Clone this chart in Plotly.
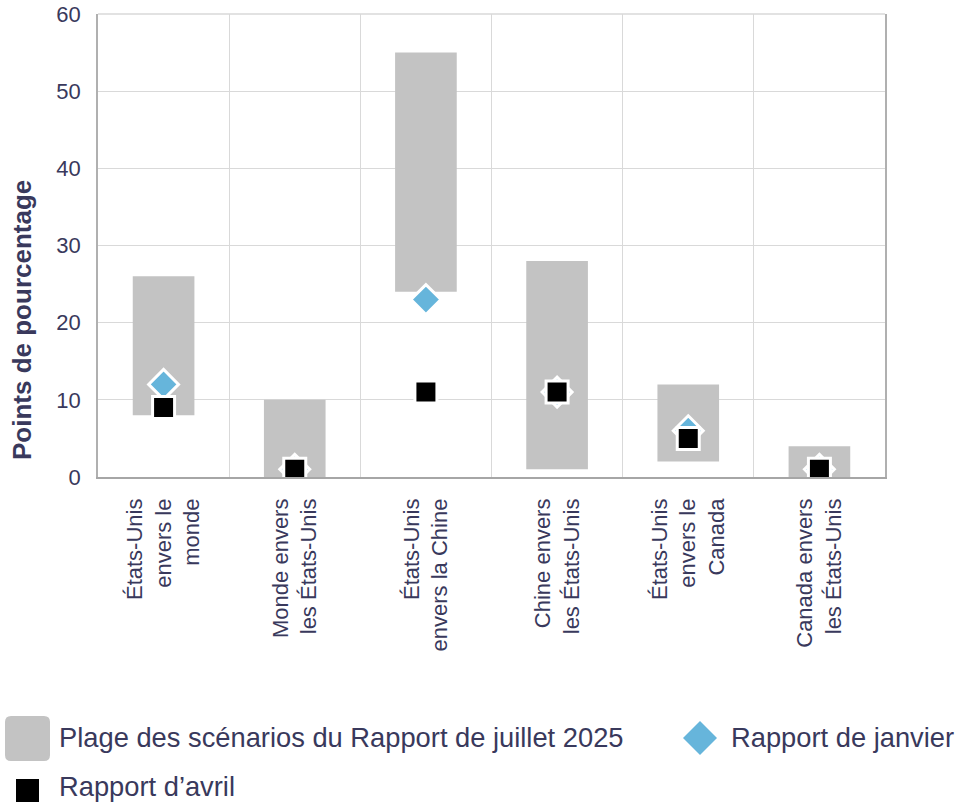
import plotly.graph_objects as go

categories = ["États-Unis<br>envers le<br>monde", "Monde envers<br>les États-Unis",
              "États-Unis<br>envers la Chine", "Chine envers<br>les États-Unis",
              "États-Unis<br>envers le<br>Canada", "Canada envers<br>les États-Unis"]
range_low = [8, 0, 24, 1, 2, 0]
range_high = [26, 10, 55, 28, 12, 4]
janvier = [12, 1, 23, 11, 6, 1]
avril = [9, 1, 11, 11, 5, 1]
yticks = [0, 10, 20, 30, 40, 50, 60]

NAVY = "#39395c"
GRAY = "#c3c3c3"
BLUE = "#66b5db"
FONT = "Liberation Sans, Arial, sans-serif"

W, H = 958, 805
L, R, T, B = 98, 73, 14, 328
PW, PH = W - L - R, H - T - B


def px(x):
    return (x - L) / PW


def py(y):
    return (H - B - y) / PH


fig = go.Figure()
fig.add_trace(go.Bar(
    x=categories, y=[h - l for h, l in zip(range_high, range_low)], base=range_low,
    marker=dict(color=GRAY, line=dict(width=0)), width=0.47,
    name="Plage des scénarios du Rapport de juillet 2025", showlegend=False,
    hoverinfo="skip"))
fig.add_trace(go.Scatter(
    x=categories, y=janvier, mode="markers", name="Rapport de janvier",
    marker=dict(symbol="diamond", size=23, color=BLUE, line=dict(color="white", width=3)),
    showlegend=False))
fig.add_trace(go.Scatter(
    x=categories, y=avril, mode="markers", name="Rapport d’avril",
    marker=dict(symbol="square", size=22, color="black", line=dict(color="white", width=3)),
    showlegend=False))

shapes = []
# top border of the plot area (light, like the gridlines)
shapes.append(dict(type="line", xref="paper", yref="paper", x0=0, x1=1, y0=1, y1=1,
                   line=dict(color="#d9d9d9", width=1.5), layer="below"))
# legend swatch: rounded rect
x0, x1, y0, y1, r = 5, 50, 716, 761, 6
rx, ry = r / PW, r / PH
X0, X1, Y0, Y1 = px(x0), px(x1), py(y1), py(y0)
path = (f"M {X0+rx} {Y0} L {X1-rx} {Y0} Q {X1} {Y0} {X1} {Y0+ry} "
        f"L {X1} {Y1-ry} Q {X1} {Y1} {X1-rx} {Y1} L {X0+rx} {Y1} "
        f"Q {X0} {Y1} {X0} {Y1-ry} L {X0} {Y0+ry} Q {X0} {Y0} {X0+rx} {Y0} Z")
shapes.append(dict(type="path", xref="paper", yref="paper", path=path,
                   fillcolor=GRAY, line=dict(width=0)))
# legend diamond
cx, cy, hw, hh = 700, 738, 17, 17
dpath = (f"M {px(cx)} {py(cy-hh)} L {px(cx+hw)} {py(cy)} L {px(cx)} {py(cy+hh)} "
         f"L {px(cx-hw)} {py(cy)} Z")
shapes.append(dict(type="path", xref="paper", yref="paper", path=dpath,
                   fillcolor=BLUE, line=dict(width=0)))
# legend square
shapes.append(dict(type="rect", xref="paper", yref="paper",
                   x0=px(16), x1=px(39), y0=py(802), y1=py(779),
                   fillcolor="black", line=dict(width=0)))

annotations = [
    dict(text="Plage des scénarios du Rapport de juillet 2025", x=px(58), y=py(738)),
    dict(text="Rapport de janvier", x=px(730), y=py(738)),
    dict(text="Rapport d’avril", x=px(58), y=py(786)),
]
for a in annotations:
    a.update(xref="paper", yref="paper", xanchor="left", yanchor="middle",
             showarrow=False, borderpad=0,
             font=dict(family=FONT, size=27.3, color=NAVY))
annotations.append(dict(text="<b>Points de pourcentage</b>", xref="paper", yref="paper",
                        x=px(22), y=py(320), xanchor="center", yanchor="middle",
                        textangle=-90, showarrow=False,
                        font=dict(family=FONT, size=26, color=NAVY)))

fig.update_layout(
    width=W, height=H, margin=dict(l=L, r=R, t=T, b=B, autoexpand=False),
    paper_bgcolor="white", plot_bgcolor="white",
    font=dict(family=FONT, color=NAVY),
    shapes=shapes, annotations=annotations, showlegend=False,
    xaxis=dict(type="category", tickson="boundaries", showgrid=True,
               gridcolor="#d9d9d9", gridwidth=1, tickangle=-90,
               tickfont=dict(size=22, color=NAVY, family=FONT),
               showline=True, linecolor="#a6a6a6", linewidth=1.5,
               ticks="", ticklabelstandoff=11, mirror=False,
               ticklabeloverflow="allow"),
    yaxis=dict(range=[0, 60], tickvals=yticks, showgrid=True, gridcolor="#d9d9d9",
               gridwidth=1, zeroline=False, showline=True, linecolor="#b0b0b0",
               linewidth=1.5, mirror=True, tickfont=dict(size=22, color=NAVY, family=FONT),
               ticks="", ticklabelstandoff=11, ticklabeloverflow="allow"),
    bargap=0.53,
)
# remove the browser's default 8px page margin so the 958x805 figure fills the window
fig.write_html("out.html", config={"displayModeBar": False},
               post_script="document.body.style.margin='0';document.body.style.overflow='hidden';")
